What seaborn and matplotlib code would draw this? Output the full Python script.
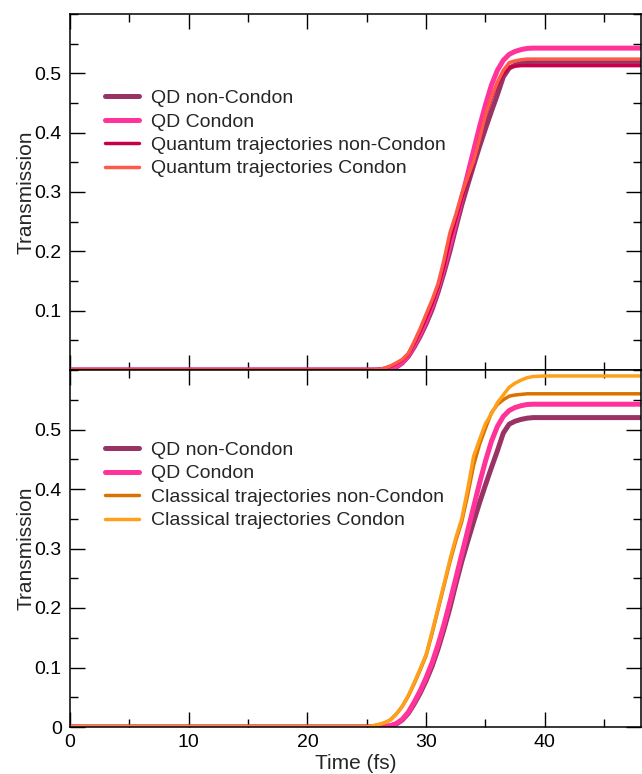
import matplotlib
matplotlib.use("Agg")
import matplotlib.pyplot as plt
import seaborn as sns
import pandas as pd
from matplotlib.ticker import MultipleLocator, FixedLocator

# ---------------- data ----------------
time_fs = [0, 24, 25, 25.5, 26, 26.5, 27, 27.5, 28, 28.5, 29, 29.5, 30, 30.5,
           31, 31.5, 32, 32.5, 33, 33.5, 34, 34.5, 35, 35.5, 36, 36.5, 37,
           37.5, 38, 38.5, 39, 40, 48]

qd_condon = [0, 0, 0, 0, 0, 0.0005, 0.002, 0.006, 0.013, 0.025, 0.042, 0.061,
             0.083, 0.108, 0.138, 0.172, 0.21, 0.25, 0.29, 0.33, 0.37, 0.41,
             0.447, 0.48, 0.505, 0.522, 0.532, 0.537, 0.540, 0.542, 0.5425,
             0.5425, 0.5425]

qd_noncondon = [0, 0, 0, 0, 0, 0.0005, 0.002, 0.005, 0.012, 0.023, 0.039,
                0.057, 0.078, 0.102, 0.131, 0.164, 0.2, 0.24, 0.278, 0.312,
                0.345, 0.377, 0.407, 0.436, 0.464, 0.494, 0.509, 0.514, 0.517,
                0.519, 0.52, 0.52, 0.52]

qt_condon = [0, 0, 0, 0, 0.001, 0.003, 0.007, 0.012, 0.018, 0.028, 0.048,
             0.07, 0.094, 0.118, 0.145, 0.185, 0.231, 0.262, 0.297, 0.325,
             0.352, 0.39, 0.43, 0.46, 0.485, 0.505, 0.518, 0.521, 0.523,
             0.524, 0.524, 0.524, 0.524]

qt_noncondon = [0, 0, 0, 0, 0.001, 0.003, 0.006, 0.011, 0.017, 0.027, 0.045,
                0.066, 0.088, 0.112, 0.14, 0.175, 0.22, 0.255, 0.29, 0.32,
                0.35, 0.39, 0.428, 0.458, 0.482, 0.5, 0.51, 0.512, 0.513,
                0.513, 0.513, 0.513, 0.513]

ct_condon = [0, 0, 0, 0.002, 0.004, 0.007, 0.012, 0.022, 0.035, 0.053, 0.075,
             0.098, 0.122, 0.16, 0.2, 0.24, 0.281, 0.318, 0.35, 0.4, 0.455,
             0.483, 0.51, 0.526, 0.545, 0.558, 0.571, 0.578, 0.583, 0.587,
             0.589, 0.59, 0.59]

ct_noncondon = [0, 0, 0, 0.002, 0.004, 0.007, 0.012, 0.022, 0.035, 0.052,
                0.073, 0.096, 0.12, 0.157, 0.197, 0.237, 0.277, 0.313, 0.345,
                0.39, 0.44, 0.475, 0.502, 0.528, 0.542, 0.55, 0.556, 0.558,
                0.559, 0.56, 0.56, 0.56, 0.56]

top_labels = ["QD non-Condon", "QD Condon",
              "Quantum trajectories non-Condon", "Quantum trajectories Condon"]
bottom_labels = ["QD non-Condon", "QD Condon",
                 "Classical trajectories non-Condon", "Classical trajectories Condon"]
y_tick_values = [0, 0.1, 0.2, 0.3, 0.4, 0.5]
x_tick_values = [0, 10, 20, 30, 40]

# ---------------- styles ----------------
colors = {
    "QD non-Condon": "#993366",
    "QD Condon": "#ff3399",
    "Quantum trajectories non-Condon": "#c8004a",
    "Quantum trajectories Condon": "#ff5a48",
    "Classical trajectories non-Condon": "#da7200",
    "Classical trajectories Condon": "#ffa01c",
}
widths = {
    "QD non-Condon": 3.6,
    "QD Condon": 3.6,
    "Quantum trajectories non-Condon": 2.5,
    "Quantum trajectories Condon": 2.5,
    "Classical trajectories non-Condon": 2.5,
    "Classical trajectories Condon": 2.5,
}

sns.set_style("ticks")
plt.rcParams["font.family"] = ["Liberation Sans", "DejaVu Sans"]

W, H = 642, 774
fig = plt.figure(figsize=(W / 100, H / 100), dpi=100)
ax_top = fig.add_axes([70 / W, 1 - 370 / H, 571 / W, 356 / H])
ax_bot = fig.add_axes([70 / W, 1 - 727 / H, 571 / W, 357 / H])


def long_frame(labels, series):
    rows = []
    for lab, vals in zip(labels, series):
        rows.append(pd.DataFrame({"Time": time_fs, "Transmission": vals, "Series": lab}))
    return pd.concat(rows, ignore_index=True)


df_top = long_frame(top_labels, [qd_noncondon, qd_condon, qt_noncondon, qt_condon])
df_bot = long_frame(bottom_labels, [qd_noncondon, qd_condon, ct_noncondon, ct_condon])

for ax, df, labels in [(ax_top, df_top, top_labels), (ax_bot, df_bot, bottom_labels)]:
    for lab in labels:
        sub = df[df["Series"] == lab]
        sns.lineplot(data=sub, x="Time", y="Transmission", ax=ax,
                     color=colors[lab], linewidth=widths[lab], label=lab,
                     sort=False, estimator=None)
    ax.set_xlim(0, 48.1)
    ax.set_ylim(0, 0.6)
    ax.xaxis.set_major_locator(FixedLocator(x_tick_values))
    ax.xaxis.set_minor_locator(MultipleLocator(5))
    ax.yaxis.set_minor_locator(MultipleLocator(0.05))
    ax.tick_params(which="both", direction="in", top=True, right=True,
                   colors="black", labelsize=14, width=1.0)
    ax.tick_params(axis="y", pad=6)
    ax.tick_params(axis="x", pad=5)
    ax.tick_params(which="major", length=11)
    ax.tick_params(which="minor", length=5.5)
    for sp in ax.spines.values():
        sp.set_color("black")
        sp.set_linewidth(1.1)
    ax.set_ylabel("Transmission", fontsize=15)
    ax.yaxis.set_label_coords(-0.06, 0.5)
    ax.grid(False)

ax_top.yaxis.set_major_locator(FixedLocator(y_tick_values[1:]))
ax_top.set_yticklabels([f"{v:g}" for v in y_tick_values[1:]])
ax_top.set_xticklabels([])
ax_top.set_xlabel("")

ax_bot.yaxis.set_major_locator(FixedLocator(y_tick_values))
ax_bot.set_yticklabels([f"{v:g}" for v in y_tick_values])
ax_bot.set_xticklabels([f"{v:g}" for v in x_tick_values])
ax_bot.set_xlabel("Time (fs)", fontsize=15, labelpad=2)

leg_kw = dict(loc="upper left", frameon=False, fontsize=14, handlelength=1.75,
              handletextpad=0.6, labelspacing=0.3, borderpad=0, borderaxespad=0)
ax_top.legend(bbox_to_anchor=(0.061, 0.788), **leg_kw)
ax_bot.legend(bbox_to_anchor=(0.061, 0.80), **leg_kw)

fig.savefig("out.png", dpi=100)
